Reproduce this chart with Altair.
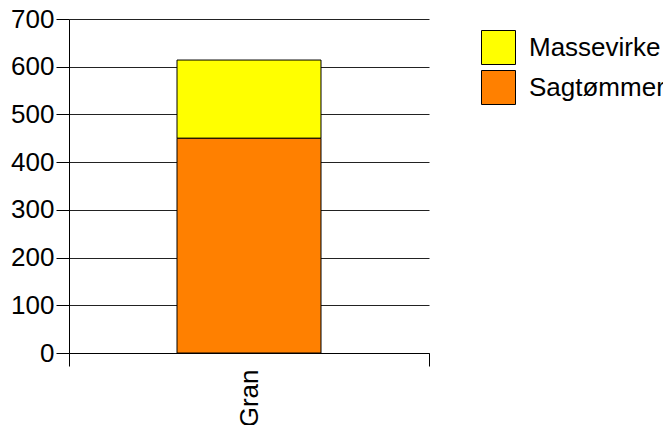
import altair as alt
import pandas as pd

categories = ["Gran"]
series = ["Massevirke", "Sagtømmer"]
massevirke = [164]
sagtommer = [450]
colors = ["#FFFF00", "#FF8000"]
stack_rank = {"Sagtømmer": 0, "Massevirke": 1}

rows = []
for i, c in enumerate(categories):
    rows.append({"kat": c, "serie": "Massevirke", "verdi": massevirke[i]})
    rows.append({"kat": c, "serie": "Sagtømmer", "verdi": sagtommer[i]})
df = pd.DataFrame(rows)
df["rank"] = df["serie"].map(stack_rank)

FONT = "Liberation Sans"
FS = 26

chart = alt.Chart(df).mark_bar(size=144, stroke="black", strokeWidth=1).encode(
    x=alt.X("kat:N", title=None,
            scale=alt.Scale(paddingInner=0, paddingOuter=0),
            axis=alt.Axis(labelAngle=-90, labelFontSize=FS, labelFont=FONT,
                          labelColor="black", tickBand="extent", tickSize=13,
                          tickColor="black", domainColor="black",
                          labelPadding=3)),
    y=alt.Y("verdi:Q", title=None, stack="zero",
            scale=alt.Scale(domain=[0, 700], nice=False),
            axis=alt.Axis(values=[0, 100, 200, 300, 400, 500, 600, 700],
                          labelFontSize=FS, labelFont=FONT, labelColor="black",
                          tickSize=13, tickColor="black", domainColor="black",
                          gridColor="#222222", gridOpacity=1, labelPadding=2)),
    color=alt.Color("serie:N",
                    scale=alt.Scale(domain=series, range=colors),
                    legend=alt.Legend(title=None, orient="none", legendX=412, legendY=11,
                                      symbolType="square", symbolSize=1156,
                                      symbolStrokeColor="black", symbolStrokeWidth=1,
                                      labelFontSize=FS, labelFont=FONT, labelColor="black",
                                      labelOffset=13, rowPadding=1, padding=0,
                                      labelLimit=300)),
    order=alt.Order("rank:Q", sort="ascending"),
).properties(
    width=360, height=334,
    autosize=alt.AutoSizeParams(type="none"),
    padding={"left": 61, "top": 11, "right": 234, "bottom": 72},
).configure_view(stroke=None)

chart.save("out.html", embed_options={"renderer": "svg", "actions": False})
